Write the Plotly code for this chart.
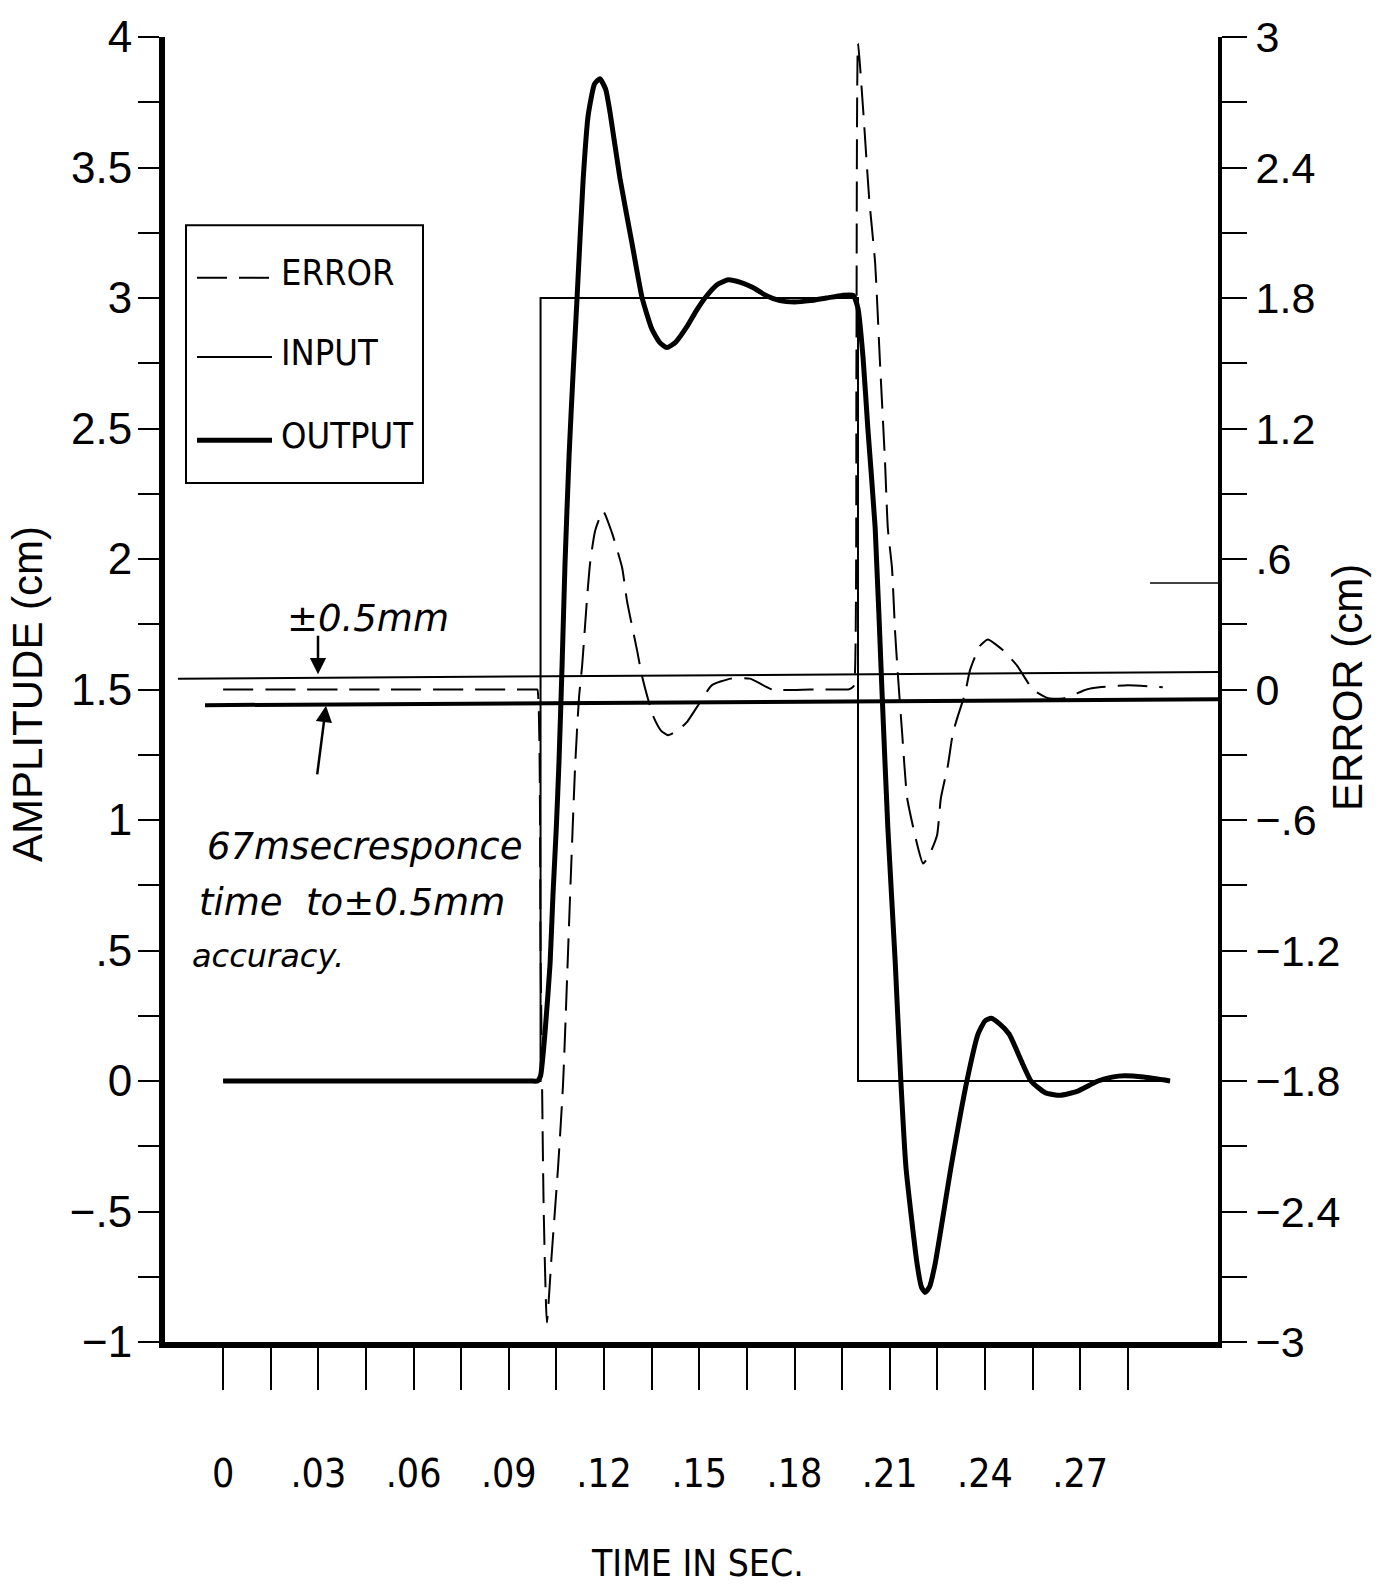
import plotly.graph_objects as go

# ---------------- data ----------------
INPUT_T = [0.0, 0.1, 0.1, 0.2, 0.2, 0.2983]
INPUT_A = [0.0, 0.0, 3.0, 3.0, 0.0, 0.0]

OUTPUT_T = [0.000, 0.0500, 0.0900, 0.0970, 0.0990, 0.1000, 0.1015, 0.1030, 0.1039, 0.1050,
            0.1058, 0.1068, 0.1077, 0.1090, 0.1102, 0.1115, 0.1134, 0.1150, 0.1170, 0.1187,
            0.1205, 0.1219, 0.1250, 0.1288, 0.1320, 0.1351, 0.1375, 0.1398, 0.1425, 0.1461,
            0.1490, 0.1518, 0.1555, 0.1591, 0.1630, 0.1669, 0.1710, 0.1754, 0.1800, 0.1850,
            0.1900, 0.1950, 0.1985, 0.2000, 0.2016, 0.2031, 0.2054, 0.2076, 0.2094, 0.2117,
            0.2135, 0.2151, 0.2186, 0.2200, 0.2211, 0.2225, 0.2243, 0.2293, 0.2343, 0.2378,
            0.2400, 0.2419, 0.2445, 0.2476, 0.2545, 0.2590, 0.2636, 0.2690, 0.2756, 0.2800,
            0.2840, 0.2900, 0.2983]
OUTPUT_A = [0.00, 0.00, 0.00, 0.00, 0.00, 0.02, 0.20, 0.45, 0.71, 0.98,
            1.22, 1.60, 1.98, 2.40, 2.70, 3.00, 3.45, 3.70, 3.82, 3.84,
            3.80, 3.71, 3.46, 3.21, 3.00, 2.88, 2.83, 2.81, 2.83, 2.89,
            2.95, 3.00, 3.05, 3.07, 3.06, 3.04, 3.01, 2.99, 2.985, 2.99,
            3.00, 3.01, 3.01, 2.96, 2.77, 2.50, 2.12, 1.48, 0.97, 0.46,
            0.00, -0.33, -0.70, -0.79, -0.81, -0.79, -0.70, -0.33, 0.00, 0.18,
            0.23, 0.24, 0.22, 0.18, 0.00, -0.045, -0.055, -0.04, 0.00, 0.015,
            0.02, 0.015, 0.00]

ERROR_T = [0.000, 0.0500, 0.0900, 0.0970, 0.0985, 0.0990, 0.1000, 0.1010, 0.1020, 0.1035,
           0.1055, 0.1071, 0.1093, 0.1109, 0.1121, 0.1131, 0.1146, 0.1156, 0.1172, 0.1197,
           0.1225, 0.1257, 0.1272, 0.1304, 0.1320, 0.1354, 0.1380, 0.1402, 0.1430, 0.1461,
           0.1493, 0.1540, 0.1600, 0.1660, 0.1730, 0.1850, 0.1950, 0.1970, 0.1983, 0.1988,
           0.1995, 0.2000, 0.2016, 0.2035, 0.2054, 0.2069, 0.2085, 0.2094, 0.2107, 0.2117,
           0.2126, 0.2139, 0.2155, 0.2186, 0.2205, 0.2225, 0.2249, 0.2261, 0.2283, 0.2299,
           0.2315, 0.2337, 0.2353, 0.2384, 0.2409, 0.2457, 0.2501, 0.2551, 0.2600, 0.2650,
           0.2720, 0.2760, 0.2850, 0.2960]
ERROR_E = [0.00, 0.00, 0.00, 0.00, 0.00, 0.00, -1.20, -2.40, -2.91, -2.60,
           -2.20, -1.81, -0.95, -0.35, -0.04, 0.11, 0.41, 0.58, 0.73, 0.82,
           0.72, 0.56, 0.41, 0.18, 0.06, -0.12, -0.19, -0.21, -0.19, -0.15,
           -0.08, 0.02, 0.05, 0.05, 0.00, 0.00, 0.00, 0.00, 0.01, 0.02,
           1.50, 2.97, 2.67, 2.26, 1.96, 1.51, 1.05, 0.74, 0.56, 0.26,
           0.06, -0.20, -0.50, -0.71, -0.80, -0.76, -0.67, -0.50, -0.35, -0.20,
           -0.12, -0.02, 0.09, 0.20, 0.23, 0.18, 0.11, 0.00, -0.04, -0.04,
           0.00, 0.01, 0.02, 0.01]

# hand-drawn +/-0.5 mm tolerance band (error axis) and a stray mark
BAND_UPPER_T = [-0.0142, 0.3134]
BAND_UPPER_E = [0.05, 0.08]
BAND_LOWER_T = [-0.0057, 0.3134]
BAND_LOWER_E = [-0.072, -0.045]
STRAY_T = [0.2920, 0.3134]
STRAY_E = [0.49, 0.49]

# tick labels
X_TICKS = [0.0, 0.015, 0.03, 0.045, 0.06, 0.075, 0.09, 0.105, 0.12, 0.135,
           0.15, 0.165, 0.18, 0.195, 0.21, 0.225, 0.24, 0.255, 0.27, 0.285]
X_LABELS = ["0", "", ".03", "", ".06", "", ".09", "", ".12", "",
            ".15", "", ".18", "", ".21", "", ".24", "", ".27", ""]
Y1_TICKS = [-1, -0.75, -0.5, -0.25, 0, 0.25, 0.5, 0.75, 1, 1.25, 1.5, 1.75,
            2, 2.25, 2.5, 2.75, 3, 3.25, 3.5, 3.75, 4]
Y1_LABELS = ["\u22121", "", "\u2212.5", "", "0", "", ".5", "", "1", "", "1.5", "",
             "2", "", "2.5", "", "3", "", "3.5", "", "4"]
Y2_TICKS = [-3, -2.7, -2.4, -2.1, -1.8, -1.5, -1.2, -0.9, -0.6, -0.3, 0,
            0.3, 0.6, 0.9, 1.2, 1.5, 1.8, 2.1, 2.4, 2.7, 3]
Y2_LABELS = ["\u22123", "", "\u22122.4", "", "\u22121.8", "", "\u22121.2", "", "\u2212.6", "", "0",
             "", ".6", "", "1.2", "", "1.8", "", "2.4", "", "3"]

# ---------------- layout geometry ----------------
W, H = 1379, 1591
PL, PR, PT, PB = 165, 1218, 25, 1342   # plot area in pixels


def px(x):
    return (x - PL) / (PR - PL)


def py(y):
    return (PB - y) / (PB - PT)


NUM_FONT = "Liberation Sans, Arial, sans-serif"
NARROW_FONT = "Liberation Sans Narrow, DejaVu Sans Condensed, Roboto Condensed, Liberation Sans, sans-serif"
HAND_FONT = "DejaVu Sans, sans-serif"
DASH = "30px,12px"

fig = go.Figure()

fig.add_trace(go.Scatter(x=INPUT_T, y=INPUT_A, mode="lines", name="INPUT",
                         line=dict(color="black", width=2), yaxis="y"))
fig.add_trace(go.Scatter(x=ERROR_T, y=ERROR_E, mode="lines", name="ERROR",
                         line=dict(color="black", width=2, dash=DASH, shape="spline", smoothing=0.5),
                         yaxis="y2"))
fig.add_trace(go.Scatter(x=OUTPUT_T, y=OUTPUT_A, mode="lines", name="OUTPUT",
                         line=dict(color="black", width=5, shape="spline", smoothing=0.5),
                         yaxis="y"))
fig.add_trace(go.Scatter(x=BAND_UPPER_T, y=BAND_UPPER_E, mode="lines",
                         line=dict(color="black", width=2), yaxis="y2"))
fig.add_trace(go.Scatter(x=BAND_LOWER_T, y=BAND_LOWER_E, mode="lines",
                         line=dict(color="black", width=4), yaxis="y2"))
fig.add_trace(go.Scatter(x=STRAY_T, y=STRAY_E, mode="lines",
                         line=dict(color="black", width=1.5), yaxis="y2"))

axis_common = dict(showgrid=False, zeroline=False, showline=True, linecolor="black",
                   ticks="outside", tickcolor="black", tickwidth=2)

fig.update_layout(
    width=W, height=H,
    margin=dict(l=PL, r=W - PR, t=PT, b=H - PB),
    paper_bgcolor="white", plot_bgcolor="white",
    showlegend=False,
    xaxis=dict(range=[-0.0183, 0.3134], tickmode="array", tickvals=X_TICKS, ticktext=X_LABELS,
               linewidth=6, ticklen=42, ticklabelstandoff=50,
               tickfont=dict(family=NARROW_FONT, size=39, color="black"), **axis_common),
    yaxis=dict(range=[-1, 4], tickmode="array", tickvals=Y1_TICKS, ticktext=Y1_LABELS,
               linewidth=6, ticklen=21, ticklabelstandoff=-3,
               tickfont=dict(family=NUM_FONT, size=44, color="black"), **axis_common),
    yaxis2=dict(range=[-3, 3], tickmode="array", tickvals=Y2_TICKS, ticktext=Y2_LABELS,
                overlaying="y", side="right", linewidth=4, ticklen=25, ticklabelstandoff=0,
                tickfont=dict(family=NUM_FONT, size=43, color="black"), **axis_common),
)

# ---------------- legend box (drawn by hand like the original) ----------------
shapes = [
    dict(type="rect", xref="paper", yref="paper", x0=px(186), x1=px(423), y0=py(475), y1=py(215),
         line=dict(color="black", width=2)),
    dict(type="line", xref="paper", yref="paper", x0=px(197), x1=px(272), y0=py(268), y1=py(268),
         line=dict(color="black", width=2, dash=DASH)),
    dict(type="line", xref="paper", yref="paper", x0=px(197), x1=px(272), y0=py(348), y1=py(348),
         line=dict(color="black", width=2)),
    dict(type="line", xref="paper", yref="paper", x0=px(197), x1=px(272), y0=py(432), y1=py(432),
         line=dict(color="black", width=5)),
]
fig.update_layout(shapes=shapes)

ann = []
for label, yc in [("ERROR", 263), ("INPUT", 343), ("OUTPUT", 427)]:
    ann.append(dict(text=label, xref="paper", yref="paper", x=px(279), y=py(yc),
                    xanchor="left", yanchor="middle", showarrow=False,
                    font=dict(family=NARROW_FONT, size=36, color="black")))

# axis titles
ann.append(dict(text="AMPLITUDE (cm)", xref="paper", yref="paper", x=px(28), y=py(688),
                xanchor="center", yanchor="middle", textangle=-90, showarrow=False,
                font=dict(family=NUM_FONT, size=42, color="black")))
ann.append(dict(text="ERROR (cm)", xref="paper", yref="paper", x=px(1347), y=py(682),
                xanchor="center", yanchor="middle", textangle=-90, showarrow=False,
                font=dict(family=NUM_FONT, size=42, color="black")))
ann.append(dict(text="TIME IN SEC.", xref="paper", yref="paper", x=px(697), y=py(1566),
                xanchor="center", yanchor="middle", showarrow=False,
                font=dict(family=NARROW_FONT, size=37, color="black")))

# handwritten notes
hand = dict(family=HAND_FONT, size=37, color="black", style="italic")
ann.append(dict(text="\u00b10.5mm", xref="paper", yref="paper", x=px(285), y=py(612),
                xanchor="left", yanchor="middle", showarrow=False, font=hand))
ann.append(dict(text="67msecresponce", xref="paper", yref="paper", x=px(205), y=py(842),
                xanchor="left", yanchor="middle", showarrow=False, font=hand))
ann.append(dict(text="time  to\u00b10.5mm", xref="paper", yref="paper", x=px(197), y=py(898),
                xanchor="left", yanchor="middle", showarrow=False, font=hand))
ann.append(dict(text="accuracy.", xref="paper", yref="paper", x=px(190), y=py(952),
                xanchor="left", yanchor="middle", showarrow=False,
                font=dict(family=HAND_FONT, size=32, color="black", style="italic")))
# arrows
ann.append(dict(text="", xref="paper", yref="paper", x=px(318), y=py(668), ax=0, ay=-40,
                showarrow=True, arrowhead=2, arrowsize=1.3, arrowwidth=2.5, arrowcolor="black"))
ann.append(dict(text="", xref="paper", yref="paper", x=px(326), y=py(700), ax=-9, ay=70,
                showarrow=True, arrowhead=2, arrowsize=1.3, arrowwidth=2.5, arrowcolor="black"))

fig.update_layout(annotations=ann)

fig.write_html("out.html")
